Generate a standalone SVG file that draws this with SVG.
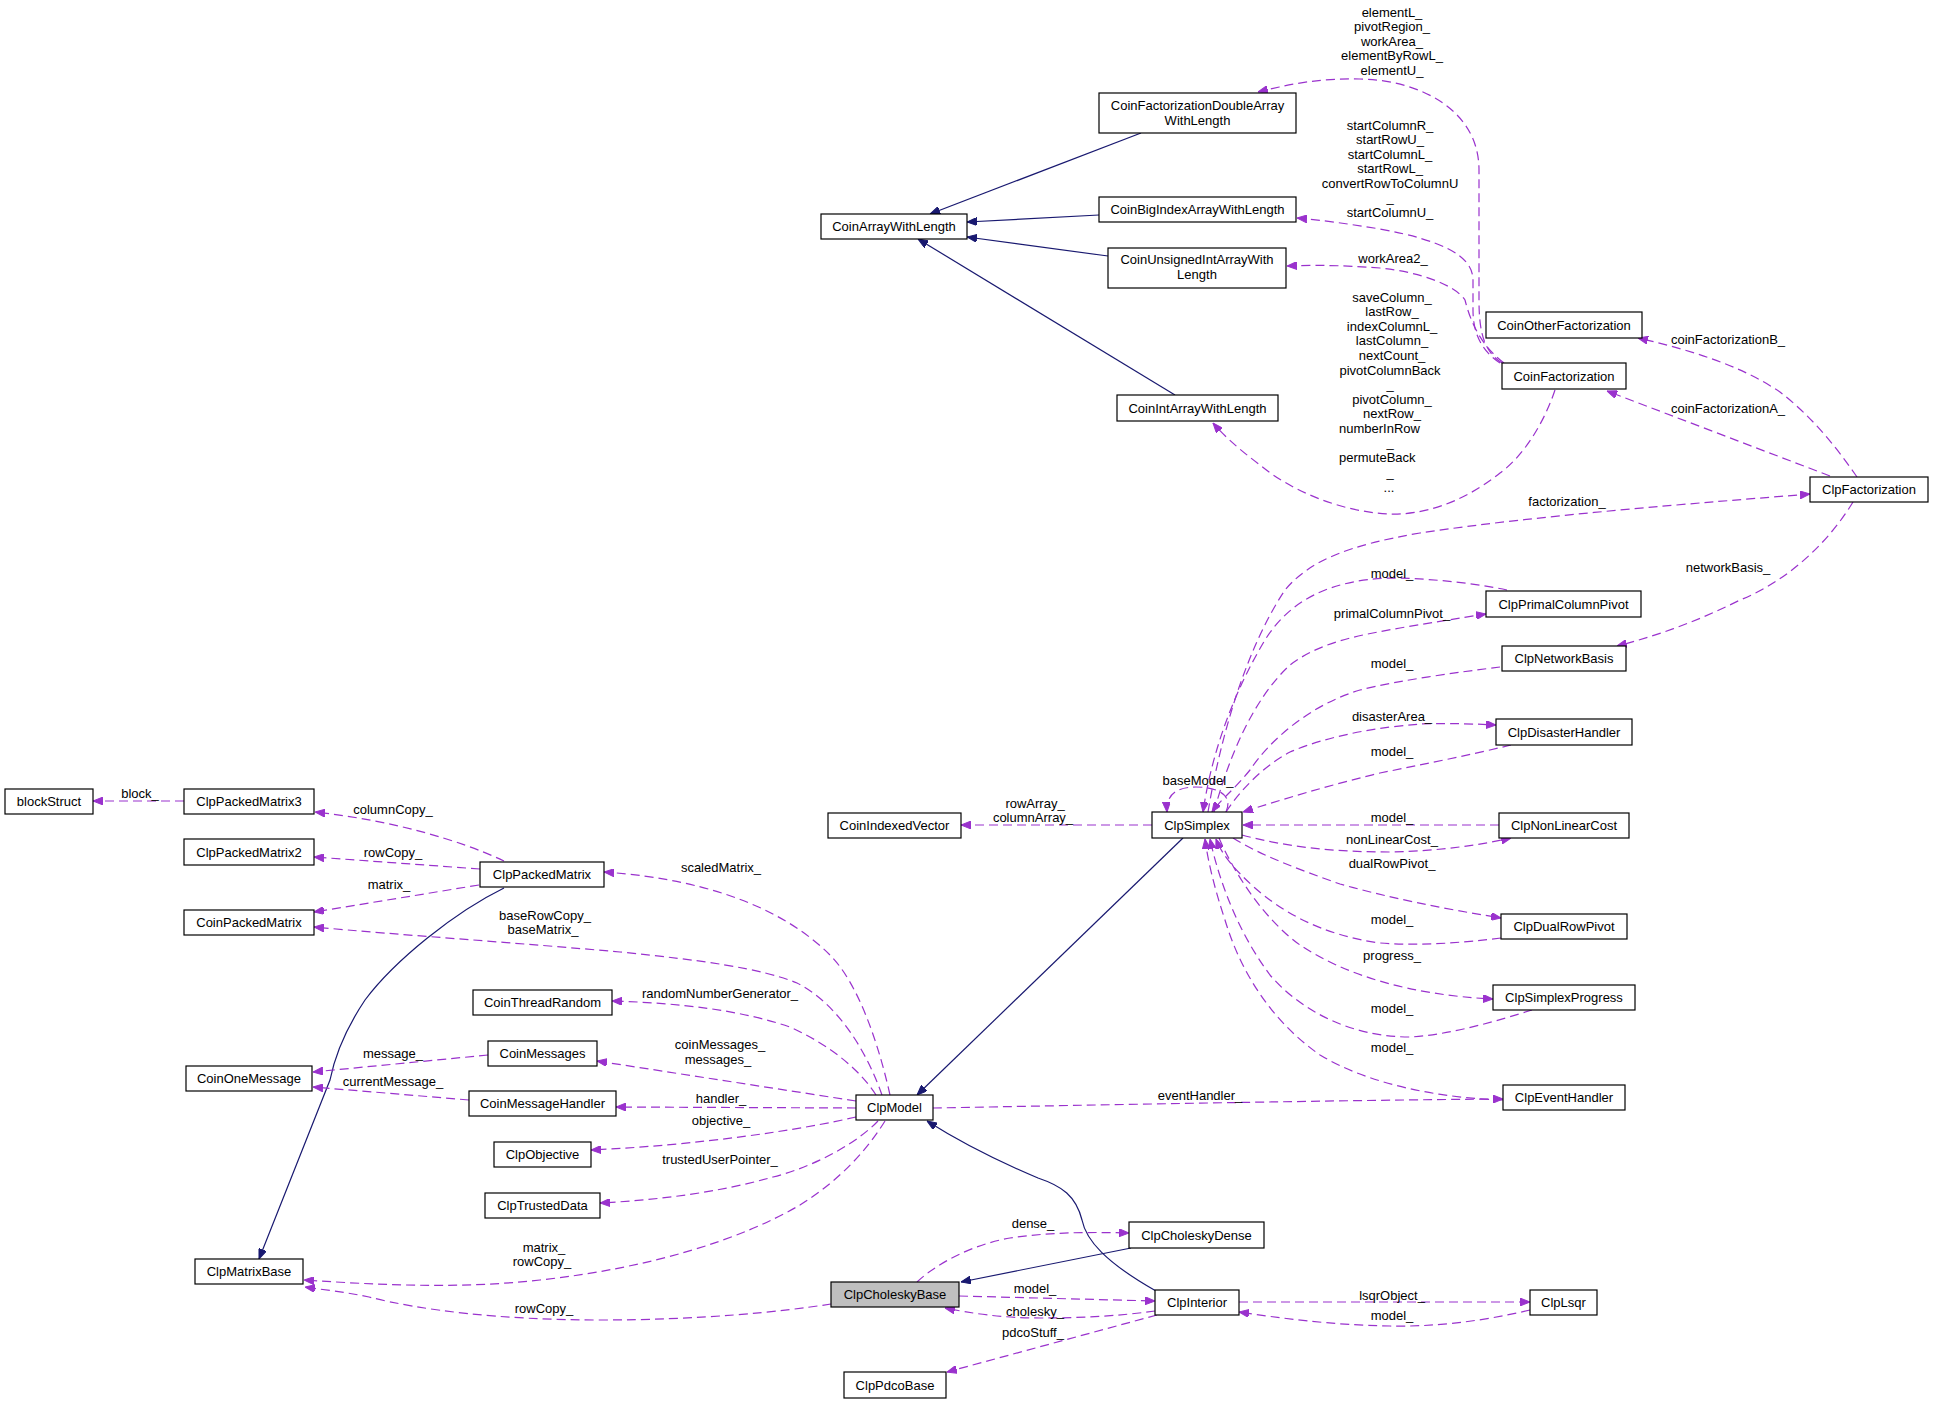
<svg xmlns="http://www.w3.org/2000/svg" width="1933" height="1404" viewBox="0 0 1933 1404">
<style>
text{font-family:"Liberation Sans",Arial,Helvetica,sans-serif;font-size:13px;fill:#000;text-anchor:middle}
.node rect{fill:#fff;stroke:#000;stroke-width:1.2}
.node.sel rect{fill:#bfbfbf}
.u{fill:none;stroke:#9a32cd;stroke-width:1.2;stroke-dasharray:9,5;marker-end:url(#ap)}
.i{fill:none;stroke:#191970;stroke-width:1.2;marker-end:url(#an)}
.st{text-anchor:start}
</style>
<defs>
<marker id="ap" viewBox="0 0 10 8" refX="10" refY="4" markerWidth="10" markerHeight="8" markerUnits="userSpaceOnUse" orient="auto"><path d="M0,0 L10,4 L0,8 z" fill="#9a32cd" stroke="#9a32cd" stroke-width="1"/></marker>
<marker id="an" viewBox="0 0 10 8" refX="10" refY="4" markerWidth="10" markerHeight="8" markerUnits="userSpaceOnUse" orient="auto"><path d="M0,0 L10,4 L0,8 z" fill="#191970" stroke="#191970" stroke-width="1"/></marker>
</defs>
<rect width="1933" height="1404" fill="#fff"/>
<g id="edges">
<path class="i" d="M1141,133 L930,214"/>
<path class="i" d="M1099,215 L967,222"/>
<path class="i" d="M1108,256 L967,237"/>
<path class="i" d="M1175,395 L918,239"/>
<path class="i" d="M1183,838 L917,1095"/>
<path class="i" d="M504,888 C455,912 395,960 365,1000 C345,1030 335,1055 330,1080 L259,1259"/>
<path class="i" d="M1156,1291 C1105,1262 1086,1240 1082,1220 C1076,1196 1062,1186 1038,1178 C1000,1162 960,1142 927,1121"/>
<path class="i" d="M1131,1248 L961,1282"/>
<path class="u" d="M1502,363 C1485,352 1479,335 1479,300 L1479,170 C1479,110 1420,80 1360,79 C1320,78 1290,84 1258,92"/>
<path class="u" d="M1500,363 C1483,352 1473,335 1473,310 L1473,280 C1473,255 1440,240 1380,229 C1350,224 1320,220 1297,218"/>
<path class="u" d="M1504,363 C1480,345 1470,320 1465,300 C1455,285 1420,272 1380,268 C1340,265 1310,265 1287,266"/>
<path class="u" d="M1555,390 C1545,420 1525,455 1500,473 C1460,505 1420,515 1390,514 C1340,512 1290,490 1260,465 C1240,450 1225,437 1213,423"/>
<path class="u" d="M1857,477 C1835,445 1810,415 1780,392 C1740,365 1690,350 1638,338"/>
<path class="u" d="M1830,476 L1607,391"/>
<path class="u" d="M1853,502 C1830,540 1790,580 1740,600 C1700,620 1660,635 1617,646"/>
<path class="u" d="M1208,812 C1220,740 1245,650 1285,590 C1310,560 1350,545 1420,533 C1540,515 1700,503 1810,494"/>
<path class="u" d="M1507,590 C1470,582 1420,578 1390,578 C1330,580 1290,600 1265,640 C1235,690 1212,750 1203,812"/>
<path class="u" d="M1214,812 C1228,760 1252,700 1290,665 C1320,642 1360,635 1400,628 C1430,623 1460,618 1486,614"/>
<path class="u" d="M1500,667 C1460,672 1400,680 1360,690 C1310,705 1270,740 1250,770 C1232,792 1220,800 1212,812"/>
<path class="u" d="M1226,812 C1240,790 1265,765 1290,752 C1330,735 1380,727 1421,724 C1450,723 1475,724 1496,725"/>
<path class="u" d="M1511,745 C1470,755 1420,765 1380,773 C1330,785 1280,800 1243,812"/>
<path class="u" d="M1499,825 L1243,825"/>
<path class="u" d="M1242,835 C1290,848 1340,852 1390,852 C1440,851 1480,845 1511,838"/>
<path class="u" d="M1233,838 C1260,855 1300,870 1340,884 C1390,898 1440,908 1501,918"/>
<path class="u" d="M1501,938 C1460,943 1420,946 1380,943 C1320,935 1280,910 1255,888 C1235,870 1222,855 1216,839"/>
<path class="u" d="M1219,838 C1235,875 1265,920 1300,945 C1345,975 1410,995 1493,999"/>
<path class="u" d="M1532,1010 C1500,1020 1450,1035 1410,1037 C1350,1037 1300,1010 1270,975 C1240,935 1220,885 1210,839"/>
<path class="u" d="M1503,1100 C1440,1098 1370,1085 1320,1055 C1270,1020 1240,970 1225,920 C1215,890 1208,862 1205,839"/>
<path class="u" d="M933,1108 C1100,1105 1350,1100 1503,1099"/>
<path class="u" d="M1226,812 C1234,794 1216,787 1196,787 C1176,787 1166,795 1167,812"/>
<path class="u" d="M1152,825 L961,825"/>
<path class="u" d="M890,1095 C880,1050 860,985 830,955 C790,915 720,880 604,872"/>
<path class="u" d="M882,1095 C868,1055 840,1005 797,983 C760,968 700,960 620,952 C520,943 400,935 314,927"/>
<path class="u" d="M876,1095 C860,1070 830,1045 790,1027 C740,1010 680,1003 612,1001"/>
<path class="u" d="M856,1101 L597,1061"/>
<path class="u" d="M856,1108 L616,1107"/>
<path class="u" d="M856,1117 C800,1130 700,1145 591,1150"/>
<path class="u" d="M878,1121 C860,1140 820,1165 773,1177 C720,1192 660,1200 600,1203"/>
<path class="u" d="M885,1121 C867,1150 840,1180 800,1205 C740,1240 650,1268 540,1280 C460,1289 380,1285 304,1280"/>
<path class="u" d="M831,1304 C780,1312 700,1320 600,1320 C500,1320 420,1310 369,1297 C345,1292 325,1290 305,1287"/>
<path class="u" d="M917,1282 C935,1265 970,1245 1010,1238 C1050,1232 1090,1232 1129,1233"/>
<path class="u" d="M959,1296 L1155,1301"/>
<path class="u" d="M1155,1311 C1120,1316 1080,1318 1040,1318 C1000,1318 970,1313 945,1308"/>
<path class="u" d="M1157,1315 L947,1372"/>
<path class="u" d="M1239,1302 L1530,1302"/>
<path class="u" d="M1530,1310 C1480,1322 1430,1327 1390,1326 C1330,1325 1280,1318 1239,1312"/>
<path class="u" d="M184,801 L93,801"/>
<path class="u" d="M504,861 C460,840 390,820 315,812"/>
<path class="u" d="M480,869 L314,857"/>
<path class="u" d="M479,885 L314,912"/>
<path class="u" d="M488,1055 L313,1072"/>
<path class="u" d="M469,1100 L313,1087"/>
</g>
<g id="labels">
<text x="1392" y="17">elementL_</text>
<text x="1392" y="31">pivotRegion_</text>
<text x="1392" y="46">workArea_</text>
<text x="1392" y="60">elementByRowL_</text>
<text x="1392" y="75">elementU_</text>
<text x="1390" y="130">startColumnR_</text>
<text x="1390" y="144">startRowU_</text>
<text x="1390" y="159">startColumnL_</text>
<text x="1390" y="173">startRowL_</text>
<text x="1390" y="188">convertRowToColumnU</text>
<text x="1390" y="202">_</text>
<text x="1390" y="217">startColumnU_</text>
<text x="1393" y="263">workArea2_</text>
<text x="1392" y="302">saveColumn_</text>
<text x="1392" y="316">lastRow_</text>
<text x="1392" y="331">indexColumnL_</text>
<text x="1392" y="345">lastColumn_</text>
<text x="1392" y="360">nextCount_</text>
<text x="1390" y="375">pivotColumnBack</text>
<text x="1390" y="389">_</text>
<text x="1392" y="404">pivotColumn_</text>
<text x="1392" y="418">nextRow_</text>
<text class="st" x="1339" y="433">numberInRow</text>
<text x="1390" y="447">_</text>
<text class="st" x="1339" y="462">permuteBack</text>
<text x="1390" y="477">_</text>
<text x="1389" y="492">...</text>
<text x="1728" y="344">coinFactorizationB_</text>
<text x="1728" y="413">coinFactorizationA_</text>
<text x="1728" y="572">networkBasis_</text>
<text x="1567" y="506">factorization_</text>
<text x="1392" y="578">model_</text>
<text x="1392" y="618">primalColumnPivot_</text>
<text x="1392" y="668">model_</text>
<text x="1392" y="721">disasterArea_</text>
<text x="1392" y="756">model_</text>
<text x="1198" y="785">baseModel_</text>
<text x="1392" y="822">model_</text>
<text x="1392" y="844">nonLinearCost_</text>
<text x="1392" y="868">dualRowPivot_</text>
<text x="1392" y="924">model_</text>
<text x="1392" y="960">progress_</text>
<text x="1392" y="1013">model_</text>
<text x="1392" y="1052">model_</text>
<text x="1200" y="1100">eventHandler_</text>
<text x="1035" y="808">rowArray_</text>
<text x="1033" y="822">columnArray_</text>
<text x="721" y="872">scaledMatrix_</text>
<text x="545" y="920">baseRowCopy_</text>
<text x="543" y="934">baseMatrix_</text>
<text x="720" y="998">randomNumberGenerator_</text>
<text x="720" y="1049">coinMessages_</text>
<text x="718" y="1064">messages_</text>
<text x="721" y="1103">handler_</text>
<text x="721" y="1125">objective_</text>
<text x="720" y="1164">trustedUserPointer_</text>
<text x="544" y="1252">matrix_</text>
<text x="542" y="1266">rowCopy_</text>
<text x="544" y="1313">rowCopy_</text>
<text x="1033" y="1228">dense_</text>
<text x="1035" y="1293">model_</text>
<text x="1035" y="1316">cholesky_</text>
<text x="1033" y="1337">pdcoStuff_</text>
<text x="1392" y="1300">lsqrObject_</text>
<text x="1392" y="1320">model_</text>
<text x="140" y="798">block_</text>
<text x="393" y="814">columnCopy_</text>
<text x="393" y="857">rowCopy_</text>
<text x="389" y="889">matrix_</text>
<text x="393" y="1058">message_</text>
<text x="393" y="1086">currentMessage_</text>
</g>
<g id="nodes">
<g id="CoinFactorizationDoubleArrayWithLength" class="node"><rect x="1099" y="93" width="197" height="40"/><text x="1197.5" y="110">CoinFactorizationDoubleArray</text><text x="1197.5" y="125">WithLength</text></g>
<g id="CoinArrayWithLength" class="node"><rect x="821" y="214" width="146" height="25"/><text x="894" y="231">CoinArrayWithLength</text></g>
<g id="CoinBigIndexArrayWithLength" class="node"><rect x="1099" y="197" width="197" height="25"/><text x="1197.5" y="214">CoinBigIndexArrayWithLength</text></g>
<g id="CoinUnsignedIntArrayWithLength" class="node"><rect x="1108" y="248" width="178" height="40"/><text x="1197" y="264">CoinUnsignedIntArrayWith</text><text x="1197" y="279">Length</text></g>
<g id="CoinIntArrayWithLength" class="node"><rect x="1117" y="395" width="161" height="26"/><text x="1197.5" y="412.5">CoinIntArrayWithLength</text></g>
<g id="CoinOtherFactorization" class="node"><rect x="1486" y="312" width="156" height="26"/><text x="1564" y="329.5">CoinOtherFactorization</text></g>
<g id="CoinFactorization" class="node"><rect x="1502" y="363" width="124" height="26"/><text x="1564" y="380.5">CoinFactorization</text></g>
<g id="ClpFactorization" class="node"><rect x="1810" y="477" width="118" height="25"/><text x="1869" y="494">ClpFactorization</text></g>
<g id="ClpPrimalColumnPivot" class="node"><rect x="1486" y="591" width="155" height="26"/><text x="1563.5" y="608.5">ClpPrimalColumnPivot</text></g>
<g id="ClpNetworkBasis" class="node"><rect x="1502" y="646" width="124" height="25"/><text x="1564" y="663">ClpNetworkBasis</text></g>
<g id="ClpDisasterHandler" class="node"><rect x="1496" y="719" width="136" height="26"/><text x="1564" y="736.5">ClpDisasterHandler</text></g>
<g id="ClpNonLinearCost" class="node"><rect x="1499" y="813" width="130" height="25"/><text x="1564" y="830">ClpNonLinearCost</text></g>
<g id="ClpSimplex" class="node"><rect x="1152" y="812" width="90" height="26"/><text x="1197" y="829.5">ClpSimplex</text></g>
<g id="ClpDualRowPivot" class="node"><rect x="1501" y="914" width="126" height="25"/><text x="1564" y="931">ClpDualRowPivot</text></g>
<g id="ClpSimplexProgress" class="node"><rect x="1493" y="985" width="142" height="25"/><text x="1564" y="1002">ClpSimplexProgress</text></g>
<g id="ClpEventHandler" class="node"><rect x="1503" y="1085" width="122" height="25"/><text x="1564" y="1102">ClpEventHandler</text></g>
<g id="CoinIndexedVector" class="node"><rect x="828" y="813" width="133" height="25"/><text x="894.5" y="830">CoinIndexedVector</text></g>
<g id="ClpCholeskyDense" class="node"><rect x="1129" y="1222" width="135" height="26"/><text x="1196.5" y="1239.5">ClpCholeskyDense</text></g>
<g id="ClpCholeskyBase" class="node sel"><rect x="831" y="1282" width="128" height="25"/><text x="895" y="1299">ClpCholeskyBase</text></g>
<g id="ClpInterior" class="node"><rect x="1155" y="1290" width="84" height="25"/><text x="1197" y="1307">ClpInterior</text></g>
<g id="ClpLsqr" class="node"><rect x="1530" y="1290" width="67" height="25"/><text x="1563.5" y="1307">ClpLsqr</text></g>
<g id="ClpPdcoBase" class="node"><rect x="844" y="1372" width="102" height="26"/><text x="895" y="1389.5">ClpPdcoBase</text></g>
<g id="blockStruct" class="node"><rect x="5" y="789" width="88" height="25"/><text x="49" y="806">blockStruct</text></g>
<g id="ClpPackedMatrix3" class="node"><rect x="184" y="789" width="130" height="25"/><text x="249" y="806">ClpPackedMatrix3</text></g>
<g id="ClpPackedMatrix2" class="node"><rect x="184" y="839" width="130" height="26"/><text x="249" y="856.5">ClpPackedMatrix2</text></g>
<g id="ClpPackedMatrix" class="node"><rect x="480" y="862" width="124" height="25"/><text x="542" y="879">ClpPackedMatrix</text></g>
<g id="CoinPackedMatrix" class="node"><rect x="184" y="910" width="130" height="25"/><text x="249" y="927">CoinPackedMatrix</text></g>
<g id="CoinThreadRandom" class="node"><rect x="473" y="990" width="139" height="25"/><text x="542.5" y="1007">CoinThreadRandom</text></g>
<g id="CoinMessages" class="node"><rect x="488" y="1041" width="109" height="25"/><text x="542.5" y="1058">CoinMessages</text></g>
<g id="CoinMessageHandler" class="node"><rect x="469" y="1091" width="147" height="25"/><text x="542.5" y="1108">CoinMessageHandler</text></g>
<g id="ClpModel" class="node"><rect x="856" y="1095" width="77" height="25"/><text x="894.5" y="1112">ClpModel</text></g>
<g id="CoinOneMessage" class="node"><rect x="186" y="1066" width="126" height="25"/><text x="249" y="1083">CoinOneMessage</text></g>
<g id="ClpObjective" class="node"><rect x="494" y="1142" width="97" height="25"/><text x="542.5" y="1159">ClpObjective</text></g>
<g id="ClpTrustedData" class="node"><rect x="485" y="1193" width="115" height="25"/><text x="542.5" y="1210">ClpTrustedData</text></g>
<g id="ClpMatrixBase" class="node"><rect x="195" y="1259" width="108" height="25"/><text x="249" y="1276">ClpMatrixBase</text></g>
</g>
</svg>
